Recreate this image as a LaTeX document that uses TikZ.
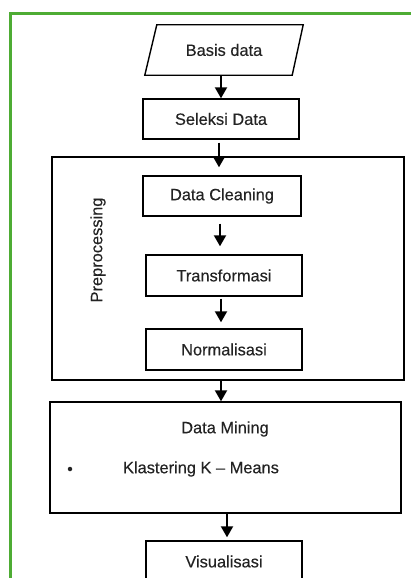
\documentclass[tikz,border=0pt]{standalone}
\usepackage{fontspec}
\setmainfont[FakeBold=0.25]{Liberation Sans}
\usetikzlibrary{arrows.meta,calc}
\definecolor{framegreen}{RGB}{78,172,52}
\definecolor{ink}{RGB}{35,35,35}
\tikzset{
  box/.style={draw=black, line width=1.4pt, minimum width=#1, inner sep=0pt, text=ink},
  label/.style={text=ink, inner sep=0pt},
  flow/.style={line width=2pt, -{Triangle[length=11pt,width=12pt]}},
}
\begin{document}
\begin{tikzpicture}[x=1pt,y=-1pt, font=\fontsize{16.4}{19}\selectfont]
\useasboundingbox (0,0) rectangle (411,578);
\clip (0,0) rectangle (411,578);
\fill[white] (0,0) rectangle (411,578);
% outer frame
\draw[framegreen, line width=3pt] (10.5,13.5) rectangle (430,600);

% input parallelogram
\node[label, minimum width=158, minimum height=50] (basis) at (224,50) {Basis data};
\draw[line width=1.4pt, line join=miter]
  ($(basis.north west)+(12,0)$) -- (basis.north east)
  -- ($(basis.south east)+(-11,0)$) -- (basis.south west) -- cycle;

\node[box=156, minimum height=40] (sel) at (221,119) {Seleksi Data};

% preprocessing group
\node[box=352, minimum height=223] (pre) at (228,268.5) {};
\node[label, rotate=90] (prelab) at (98,250) {Preprocessing};
\node[box=158, minimum height=40] (clean) at (222,196) {Data Cleaning};
\node[box=156, minimum height=41] (trans) at (224,275.5) {Transformasi};
\node[box=156, minimum height=41] (norm) at (224,349.5) {Normalisasi};

% data mining
\node[box=351, minimum height=111] (mining) at (225.5,457.5) {};
\node[label] (mtitle) at (225,429) {Data Mining};
\node[circle, fill=ink, inner sep=0pt, minimum size=4.5pt] (bullet) at (70,469) {};
\node[label] (kmeans) at (201,469) {Klastering K – Means};

\node[box=156, minimum height=41] (vis) at (224,561.5) {Visualisasi};

% connectors
\draw[flow] (sel.north |- basis.south) -- (sel.north);
\draw[flow, shorten <=3pt, shorten >=8pt] ([xshift=-2pt]sel.south) -- ([xshift=-2pt]sel.south |- clean.north);
\draw[flow, shorten <=7pt, shorten >=8pt] ([xshift=-2pt]clean.south) -- ([xshift=-2pt]clean.south |- trans.north);
\draw[flow, shorten <=2pt, shorten >=6pt] ([xshift=-3pt]trans.south) -- ([xshift=-3pt]trans.south |- norm.north);
\draw[flow] (221,0 |- pre.south) -- (221,0 |- mining.north);
\draw[flow, shorten >=3pt] ([xshift=1.5pt]mining.south) -- ([xshift=1.5pt]mining.south |- vis.north);
\end{tikzpicture}
\end{document}
